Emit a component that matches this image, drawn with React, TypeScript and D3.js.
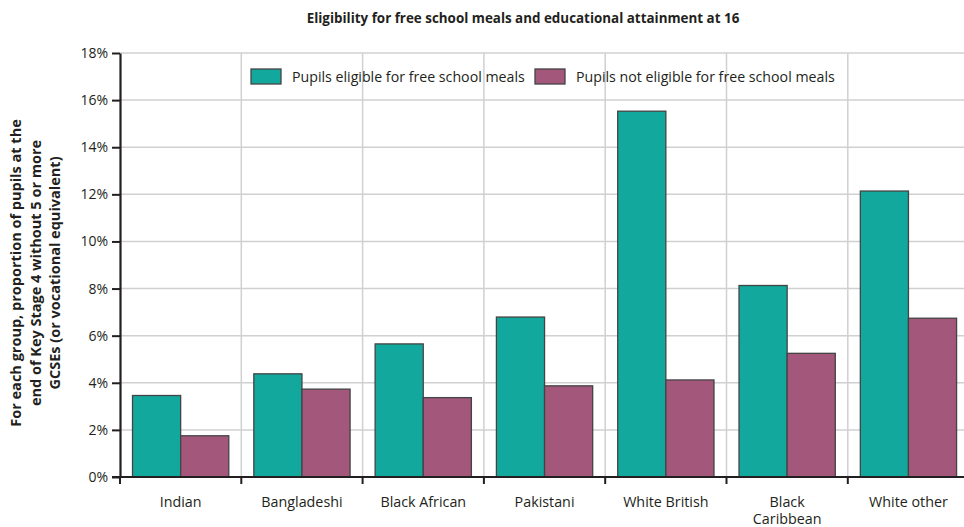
import { useRef, useEffect } from "react";
import * as d3 from "d3";

const groups = [
  "Indian",
  "Bangladeshi",
  "Black African",
  "Pakistani",
  "White British",
  "Black Caribbean",
  "White other",
];
const groupLines: Record<string, string[]> = {
  "Black Caribbean": ["Black", "Caribbean"],
};

const seriesNames = [
  "Pupils eligible for free school meals",
  "Pupils not eligible for free school meals",
];
const eligible = [3.46, 4.38, 5.65, 6.79, 15.53, 8.13, 12.14];
const notEligible = [1.75, 3.73, 3.37, 3.87, 4.12, 5.25, 6.74];
const yTicks = [0, 2, 4, 6, 8, 10, 12, 14, 16, 18];

const colors = ["#12a89d", "#a2577b"];
const FONT = "'Open Sans', 'Noto Sans', sans-serif";

const App = () => {
  const ref = useRef<SVGSVGElement | null>(null);

  useEffect(() => {
    if (ref.current === null) return;
    const width = 964;
    const left = 120;
    const top = 53;
    const bottom = 477;
    const step = 121.3;

    const svg = d3.select(ref.current);
    svg.selectAll("*").remove();

    const x = d3
      .scaleBand()
      .domain(groups)
      .range([left, left + step * groups.length])
      .padding(0);
    const xSub = d3
      .scaleBand()
      .domain(seriesNames)
      .range([0, x.bandwidth()])
      .paddingInner(0)
      .paddingOuter(0.26);
    const y = d3.scaleLinear().domain([0, 18]).range([bottom, top]);

    // grid
    const grid = svg.append("g").attr("stroke", "#d0d0d3").attr("stroke-width", 1.5);
    yTicks.slice(1).forEach((t) => {
      grid
        .append("line")
        .attr("x1", left)
        .attr("x2", width)
        .attr("y1", y(t))
        .attr("y2", y(t));
    });
    groups.slice(1).forEach((g) => {
      grid
        .append("line")
        .attr("x1", x(g)!)
        .attr("x2", x(g)!)
        .attr("y1", top)
        .attr("y2", bottom);
    });

    // bars
    const values = [eligible, notEligible];
    seriesNames.forEach((s, si) => {
      svg
        .append("g")
        .selectAll("rect")
        .data(groups)
        .enter()
        .append("rect")
        .attr("x", (g) => x(g)! + xSub(s)!)
        .attr("y", (_, i) => y(values[si][i]))
        .attr("width", xSub.bandwidth())
        .attr("height", (_, i) => bottom - y(values[si][i]))
        .attr("fill", colors[si])
        .attr("stroke", "#444")
        .attr("stroke-width", 1.3);
    });

    // y axis
    const yAxis = svg
      .append("g")
      .attr("transform", `translate(${left},0)`)
      .call(
        d3
          .axisLeft(y)
          .tickValues(yTicks)
          .tickSize(8)
          .tickPadding(4)
          .tickSizeOuter(0)
          .tickFormat((d) => `${d}%`)
      );
    yAxis.select(".domain").attr("stroke", "#231f20").attr("stroke-width", 2.2);
    yAxis.selectAll(".tick line").attr("stroke", "#231f20").attr("stroke-width", 2);
    yAxis
      .selectAll(".tick text")
      .attr("fill", "#231f20")
      .style("font-family", FONT)
      .style("font-size", "14px");

    // x axis
    const xAxis = svg
      .append("g")
      .attr("transform", `translate(0,${bottom})`)
      .call(d3.axisBottom(x).tickSize(0).tickSizeOuter(0).tickFormat(() => ""));
    xAxis.select(".domain").remove();
    xAxis
      .append("line")
      .attr("x1", left - 8)
      .attr("x2", width)
      .attr("stroke", "#231f20")
      .attr("stroke-width", 2.2);
    xAxis
      .selectAll(".tick")
      .data(groups)
      .each(function (g) {
        const tick = d3.select(this);
        tick
          .append("line")
          .attr("x1", -step / 2)
          .attr("x2", -step / 2)
          .attr("y1", 0)
          .attr("y2", 7)
          .attr("stroke", "#231f20")
          .attr("stroke-width", 2);
        const lines = groupLines[g] ?? [g];
        lines.forEach((ln, li) => {
          tick
            .append("text")
            .attr("y", 29.5 + li * 17.5)
            .attr("text-anchor", "middle")
            .attr("fill", "#231f20")
            .style("font-family", FONT)
            .style("font-size", "14.3px")
            .text(ln);
        });
      });

    // title
    svg
      .append("text")
      .attr("x", 523)
      .attr("y", 22.5)
      .attr("text-anchor", "middle")
      .attr("fill", "#231f20")
      .style("font-family", FONT)
      .style("font-size", "13.4px")
      .style("font-weight", "bold")
      .text("Eligibility for free school meals and educational attainment at 16");

    // y label
    const yLabel = [
      "For each group, proportion of pupils at the",
      "end of Key Stage 4 without 5 or more",
      "GCSEs (or vocational equivalent)",
    ];
    const yl = svg
      .append("text")
      .attr("transform", "translate(0,273) rotate(-90)")
      .attr("text-anchor", "middle")
      .attr("fill", "#231f20")
      .style("font-family", FONT)
      .style("font-size", "14.5px")
      .style("font-weight", "bold");
    yLabel.forEach((ln, i) => {
      yl.append("tspan")
        .attr("x", 0)
        .attr("y", 21 + i * 19.5)
        .text(ln);
    });

    // legend
    const legendX = [251, 535];
    seriesNames.forEach((s, i) => {
      const lg = svg.append("g").attr("transform", `translate(${legendX[i]},69)`);
      lg.append("rect")
        .attr("width", 30)
        .attr("height", 15)
        .attr("fill", colors[i])
        .attr("stroke", "#444")
        .attr("stroke-width", 1.3);
      lg.append("text")
        .attr("x", 41)
        .attr("y", 12.5)
        .attr("fill", "#231f20")
        .style("font-family", FONT)
        .style("font-size", "14.2px")
        .text(s);
    });
  }, []);

  return (
    <svg
      ref={ref}
      width={964}
      height={527}
      style={{ position: "absolute", left: 0, top: 0, background: "#fff" }}
    />
  );
};

export default App;
